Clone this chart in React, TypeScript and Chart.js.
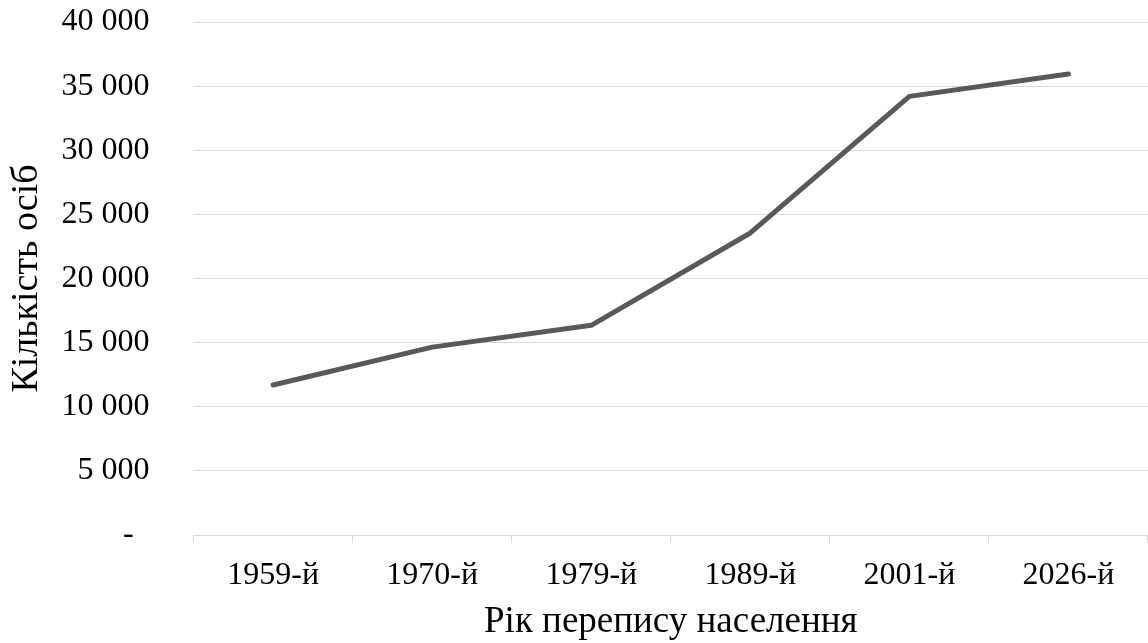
import React, { useEffect, useRef } from "react";
import { Chart, registerables } from "chart.js";

Chart.register(...registerables);

const categories = ["1959-й", "1970-й", "1979-й", "1989-й", "2001-й", "2026-й"];
const population = [11700, 14650, 16350, 23550, 34200, 35950];
const yTicks = [0, 5000, 10000, 15000, 20000, 25000, 30000, 35000, 40000];
const yTitle = "Кількість осіб";
const xTitle = "Рік перепису населення";

const FONT = "'Liberation Serif', 'Times New Roman', serif";

function fmt(v: number): string {
  if (v === 0) return "-  ";
  return String(v).replace(/\B(?=(\d{3})+(?!\d))/g, " ");
}

export default function App() {
  const ref = useRef<HTMLCanvasElement | null>(null);

  useEffect(() => {
    document.body.style.margin = "0";
    if (!ref.current) return;
    const chart = new Chart(ref.current, {
      type: "line",
      data: {
        labels: categories,
        datasets: [
          {
            data: population,
            borderColor: "#595959",
            backgroundColor: "#595959",
            borderWidth: 5,
            pointRadius: 0,
            borderCapStyle: "round",
            borderJoinStyle: "round",
            tension: 0,
          },
        ],
      },
      options: {
        animation: false,
        responsive: false,
        layout: { padding: { left: 4, right: 0, top: 22, bottom: 6 } },
        plugins: { legend: { display: false }, tooltip: { enabled: false } },
        scales: {
          x: {
            offset: true,
            grid: {
              offset: true,
              drawOnChartArea: false,
              drawTicks: true,
              tickLength: 8,
              color: "#d9d9d9",
            },
            border: { display: true, color: "#d9d9d9", width: 1 },
            ticks: {
              color: "#000",
              padding: 13,
              maxRotation: 0,
              font: { family: FONT, size: 32, lineHeight: 1.2 },
            },
            title: {
              display: true,
              text: xTitle,
              color: "#000",
              font: { family: FONT, size: 37, lineHeight: 0.8 },
              padding: { top: 0, bottom: 0 },
            },
          },
          y: {
            min: 0,
            max: 40000,
            afterBuildTicks: (scale: any) => {
              scale.ticks = yTicks.map((v) => ({ value: v }));
            },
            grid: {
              color: "#d9d9d9",
              drawTicks: true,
              tickLength: 44,
              tickColor: "rgba(0,0,0,0)",
            },
            border: { display: false },
            ticks: {
              color: "#000",
              padding: 0,
              font: { family: FONT, size: 32, lineHeight: 1.2 },
              callback: (v: any) => fmt(Number(v)),
            },
            title: {
              display: true,
              text: yTitle,
              color: "#000",
              font: { family: FONT, size: 38, lineHeight: 1.2 },
              padding: { top: 0, bottom: 12 },
            },
          },
        },
      },
    });
    return () => chart.destroy();
  }, []);

  return (
    <div style={{ width: 1148, height: 643 }}>
      <canvas ref={ref} width={1148} height={643} />
    </div>
  );
}
